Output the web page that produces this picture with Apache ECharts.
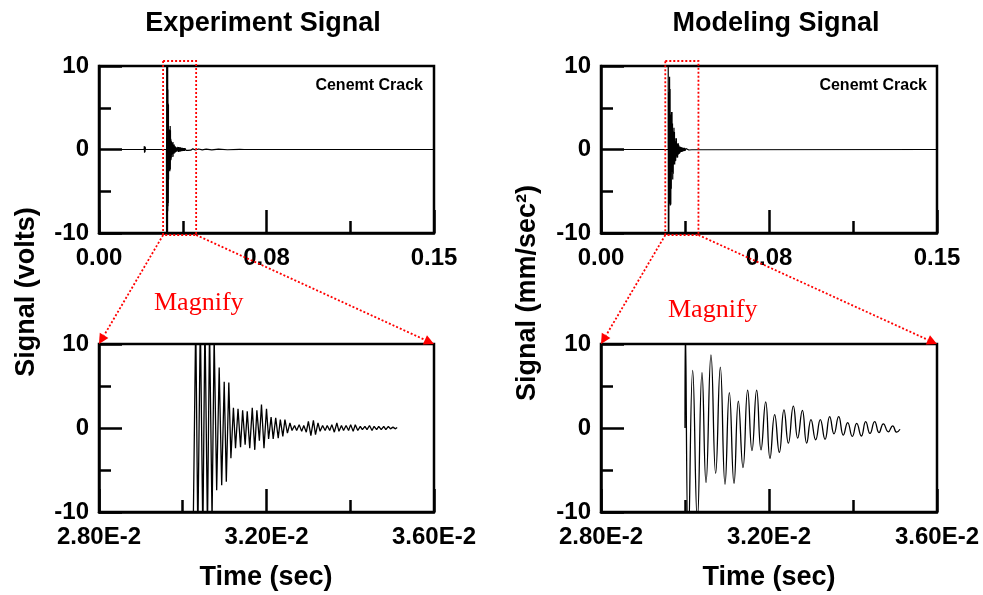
<!DOCTYPE html>
<html><head><meta charset="utf-8">
<script src="https://cdn.jsdelivr.net/npm/echarts@6/dist/echarts.min.js"></script>
<style>html,body{margin:0;padding:0;background:#fff}#c{width:983px;height:595px}</style>
</head><body><div id="c"></div>
<script>
// ---------- texts & ticks ----------
const titles = ['Experiment Signal', 'Modeling Signal'];
const yNames = ['Signal (volts)', 'Signal (mm/sec\u00B2)'];
const xName = 'Time (sec)';
const noteText = 'Cenemt Crack';
const magnifyText = 'Magnify';
const topXTicks = ['0.00', '0.08', '0.15'];
const bottomXTicks = ['2.80E-2', '3.20E-2', '3.60E-2'];
const yTicks = ['-10', '0', '10'];
const topRange = [0, 0.15];
const zoomRange = [0.028, 0.036];
const yRange = [-10, 10];
const magnifyBox = [0.0287, 0.0435];

// ---------- experiment signal ----------
const expBlip = [[0.0202,0],[0.0203,0.4],[0.0204,-0.4],[0.0205,0.4],[0.0206,-0.3],[0.0207,0.3],[0.0208,0],[0.0302,0]];
const expBurst = [
[0.03025,-12],[0.03031,13],[0.03036,-13],[0.03042,13],[0.03048,-13],[0.03053,13],[0.03059,-12],[0.03064,12],
[0.03070,-11],[0.03075,11],[0.03081,-7.4],[0.03087,7.2],[0.03093,-6.8],[0.03099,5.5],[0.03104,-6.4],[0.03110,5.4],
[0.03115,-3.6],[0.03121,2.4],[0.03126,-2.4],[0.03132,2.3],[0.03138,-2.3],[0.03143,2.1],[0.03149,-2.0],[0.03154,2.0],
[0.03160,-2.4],[0.03166,2.4],[0.03172,-2.6],[0.03177,2.1],[0.03183,-1.5],[0.03188,2.8],[0.03194,-2.4],[0.03200,2.3],
[0.03205,-1.3],[0.03211,1.3],[0.03216,-1.3],[0.03222,1.2],[0.03228,-1.2],[0.03233,1.0],[0.03239,-1.0],[0.03244,1.0],
[0.03250,-0.6],[0.03256,0.6],[0.03261,-0.3],[0.03267,0.3],[0.03272,-0.3],[0.03278,0.4],[0.03284,-0.4],[0.03289,0.3],
[0.03295,-0.5],[0.03300,0.8],[0.03306,-0.9],[0.03312,0.9],[0.03317,-0.8],[0.03323,0.6],[0.03328,-0.4],[0.03334,0.3],
[0.03340,-0.3],[0.03345,0.3],[0.03351,-0.3],[0.03356,0.4],[0.03362,-0.5],[0.03368,0.6],[0.03373,-0.4],[0.03379,0.3],
[0.03384,-0.3],[0.03390,0.3],[0.03396,-0.3],[0.03401,0.4],[0.03407,-0.4],[0.03412,0.4],[0.03418,-0.3],[0.03424,0.2],
[0.03429,-0.2],[0.03435,0.2],[0.03440,-0.2],[0.03446,0.3],[0.03452,-0.3],[0.03457,0.2],[0.03463,-0.2],[0.03468,0.2],
[0.03474,-0.2],[0.03480,0.2],[0.03485,-0.2],[0.03491,0.2],[0.03496,-0.1],[0.03502,0.1],[0.03508,-0.1],[0.03512,0.05]];
const expTail = [
[0.0353,0.3],[0.0355,-0.3],[0.0357,0.3],[0.0359,-0.25],[0.0361,0.25],[0.0363,-0.25],[0.0365,0.25],[0.0367,-0.2],
[0.0369,0.2],[0.0371,-0.2],[0.0373,0.2],[0.0376,-0.15],[0.0379,0.15],[0.0382,-0.15],[0.0385,0.15],[0.0389,-0.1],
[0.0393,0.1],[0.0398,-0.1],[0.0404,0.1],[0.0411,-0.08],[0.0420,0.08],[0.0432,-0.06],[0.0446,0.06],[0.0462,-0.05],
[0.0480,0.05],[0.0505,-0.04],[0.0535,0.04],[0.0575,-0.03],[0.0630,0.02],[0.0650,0],[0.15,0]];

// ---------- modeling signal ----------
const modBurst = [
[0.030000,0],[0.030010,12],[0.030079,-14],[0.030183,6.85],[0.030294,-11],[0.030405,6.6],[0.030500,-6.5],[0.030619,8.7],
[0.030730,-5.4],[0.030841,7.25],[0.030953,-6.7],[0.031056,4.2],[0.031167,-6.6],[0.031270,3.2],[0.031381,-4.7],[0.031492,4.5],
[0.031595,-2.7],[0.031706,4.5],[0.031810,-2.6],[0.031921,3.1],[0.032024,-3.6],[0.032135,1.6],[0.032246,-2.9],[0.032357,2.15],
[0.032461,-1.8],[0.032580,2.6],[0.032683,-1.2],[0.032794,2.1],[0.032897,-1.8],[0.033000,1.0],[0.033111,-1.4],[0.033222,1.0],
[0.033334,-1.35],[0.033445,1.35],[0.033548,-0.7],[0.033659,1.35],[0.033770,-0.85],[0.033873,0.65],[0.033984,-1.0],[0.034088,0.55],
[0.034199,-0.95],[0.034302,0.75],[0.034405,-0.65],[0.034516,0.75],[0.034619,-0.55],[0.034723,0.5],[0.034842,-0.45],[0.034945,0.25],
[0.035040,-0.5],[0.035119,-0.15]];
const modTail = [
[0.03525,0.35],[0.03545,-0.35],[0.03565,0.3],[0.03585,-0.3],[0.03610,0.25],[0.03635,-0.25],[0.03660,0.2],[0.03690,-0.2],
[0.03720,0.18],[0.03750,-0.15],[0.03790,0.12],[0.03830,-0.1],[0.03870,0.08],[0.03920,-0.06],[0.03980,0.05],[0.04050,-0.03],
[0.04110,0],[0.15,0]];

const expTop = [[0,0]].concat(expBlip, expBurst, expTail);
const modTop = [[0,0]].concat(modBurst, modTail);

// ---------- chart ----------
const FONT = '"Liberation Sans", Arial, Helvetica, sans-serif';
const chart = echarts.init(document.getElementById('c'), null, {renderer: 'canvas'});
const grids = [
  {left: 99, top: 66, width: 335, height: 167},
  {left: 99, top: 344, width: 335, height: 168},
  {left: 601, top: 66, width: 336, height: 167},
  {left: 601, top: 344, width: 336, height: 168}
].map(g => Object.assign({show: true, borderColor: '#000', borderWidth: 2.5, backgroundColor: 'transparent', containLabel: false}, g));

const tickStyle = {color: '#000', width: 2.5};
function xAxisOf(i, top) {
  const range = top ? topRange : zoomRange;
  const labels = top ? topXTicks : bottomXTicks;
  const step = (range[1] - range[0]) / 2;
  return {
    type: 'value', gridIndex: i, min: range[0], max: range[1], interval: step,
    axisLine: {show: true, onZero: false, lineStyle: tickStyle},
    axisTick: {show: true, inside: true, length: 23, lineStyle: tickStyle},
    minorTick: {show: true, splitNumber: 2, length: 12, lineStyle: tickStyle},
    splitLine: {show: false}, minorSplitLine: {show: false},
    axisLabel: {show: true, margin: 13, color: '#000', fontSize: 24, fontWeight: 'bold', fontFamily: FONT,
      formatter: v => labels[Math.round((v - range[0]) / step)] || ''}
  };
}
function yAxisOf(i) {
  return {
    type: 'value', gridIndex: i, min: yRange[0], max: yRange[1], interval: 10,
    axisLine: {show: true, onZero: false, lineStyle: tickStyle},
    axisTick: {show: true, inside: true, length: 23, lineStyle: tickStyle},
    minorTick: {show: true, splitNumber: 2, length: 12, lineStyle: tickStyle},
    splitLine: {show: false}, minorSplitLine: {show: false},
    axisLabel: {show: true, margin: 10, color: '#000', fontSize: 24, fontWeight: 'bold', fontFamily: FONT,
      formatter: v => yTicks[Math.round((v - yRange[0]) / 10)] || ''}
  };
}
function lineSeries(i, data, smooth, width) {
  return {type: 'line', xAxisIndex: i, yAxisIndex: i, data: data, symbol: 'none', showSymbol: false,
    smooth: smooth, clip: true, animation: false, silent: true, z: 3,
    lineStyle: {color: '#000', width: width}};
}

const option = {
  animation: false,
  backgroundColor: '#fff',
  grid: grids,
  xAxis: [xAxisOf(0, true), xAxisOf(1, false), xAxisOf(2, true), xAxisOf(3, false)],
  yAxis: [yAxisOf(0), yAxisOf(1), yAxisOf(2), yAxisOf(3)],
  series: [
    lineSeries(0, expTop, false, 1.2),
    lineSeries(1, expBurst, false, 1.3),
    lineSeries(2, modTop, false, 1.2),
    lineSeries(3, modBurst, true, 1.3)
  ]
};
chart.setOption(option);

// ---------- annotations ----------
function txt(x, y, text, font, color, align, vAlign, rot) {
  return {type: 'text', x: x, y: y, rotation: rot || 0, z: 100, silent: true,
    style: {text: text, font: font, fill: color, align: align, textAlign: align,
      verticalAlign: vAlign, textVerticalAlign: vAlign}};
}
const RED = '#ff0000';
const els = [];
const titleFont = 'bold 27px ' + FONT;
els.push(txt(263, 24, titles[0], titleFont, '#000', 'center', 'middle'));
els.push(txt(776, 24, titles[1], titleFont, '#000', 'center', 'middle'));
els.push(txt(27, 292, yNames[0], titleFont, '#000', 'center', 'middle', Math.PI / 2));
els.push(txt(528, 293, yNames[1], titleFont, '#000', 'center', 'middle', Math.PI / 2));
els.push(txt(266, 578, xName, titleFont, '#000', 'center', 'middle'));
els.push(txt(769, 578, xName, titleFont, '#000', 'center', 'middle'));
els.push(txt(423, 86, noteText, 'bold 16px ' + FONT, '#000', 'right', 'middle'));
els.push(txt(927, 86, noteText, 'bold 16px ' + FONT, '#000', 'right', 'middle'));
els.push(txt(154, 303, magnifyText, '26px "Liberation Serif", "Times New Roman", serif', RED, 'left', 'middle'));
els.push(txt(668, 310, magnifyText, '26px "Liberation Serif", "Times New Roman", serif', RED, 'left', 'middle'));

function arrow(x1, y1, x2, y2) {
  const dx = x2 - x1, dy = y2 - y1, L = Math.sqrt(dx * dx + dy * dy);
  const ux = dx / L, uy = dy / L, len = 10, hw = 5;
  const bx = x2 - ux * len, by = y2 - uy * len;
  els.push({type: 'line', z: 100, silent: true, shape: {x1: x1, y1: y1, x2: bx, y2: by},
    style: {stroke: RED, lineWidth: 1.8, lineDash: [2, 2]}});
  els.push({type: 'polygon', z: 100, silent: true,
    shape: {points: [[x2, y2], [bx - uy * hw, by + ux * hw], [bx + uy * hw, by - ux * hw]]},
    style: {fill: RED}});
}
[[0, 1], [2, 3]].forEach(([top, bot]) => {
  const pa = chart.convertToPixel({xAxisIndex: top, yAxisIndex: top}, [magnifyBox[0], yRange[1]]);
  const pb = chart.convertToPixel({xAxisIndex: top, yAxisIndex: top}, [magnifyBox[1], yRange[0]]);
  const x1 = pa[0], x2 = pb[0], y1 = pa[1] - 5, y2 = pb[1] + 2;
  els.push({type: 'rect', z: 100, silent: true, shape: {x: x1, y: y1, width: x2 - x1, height: y2 - y1},
    style: {fill: 'none', stroke: RED, lineWidth: 1.8, lineDash: [2, 2]}});
  const ca = chart.convertToPixel({xAxisIndex: bot, yAxisIndex: bot}, [zoomRange[0], yRange[1]]);
  const cb = chart.convertToPixel({xAxisIndex: bot, yAxisIndex: bot}, [zoomRange[1], yRange[1]]);
  arrow(x1, y2, ca[0], ca[1]);
  arrow(x2, y2, cb[0], cb[1]);
});
chart.setOption({graphic: {elements: els}});
</script>
</body></html>
